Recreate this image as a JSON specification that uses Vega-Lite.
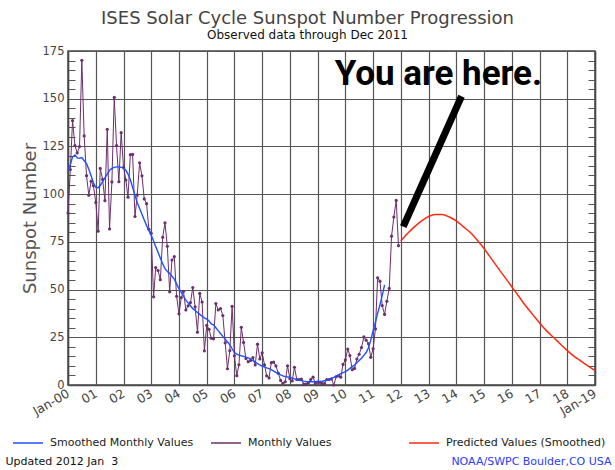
{
  "$schema": "https://vega.github.io/schema/vega-lite/v6.json",
  "width": 527,
  "height": 334,
  "autosize": {"type": "none"},
  "padding": {"left": 68, "top": 51, "right": 20, "bottom": 85},
  "background": "white",
  "title": {
    "text": "ISES Solar Cycle Sunspot Number Progression",
    "subtitle": "Observed data through Dec 2011",
    "anchor": "middle", "frame": "group", "dx": -24, "offset": 4,
    "font": "DejaVu Sans", "fontSize": 18, "fontWeight": "normal", "color": "#444",
    "subtitleFont": "DejaVu Sans", "subtitleFontSize": 12, "subtitleColor": "#111", "subtitlePadding": 2
  },
  "datasets": {
    "monthly": [
      {"d":"2000-01-01","m":90.1,"s":112.6},{"d":"2000-02-01","m":112.9,"s":115.5},{"d":"2000-03-01","m":138.5,"s":119.5},{"d":"2000-04-01","m":125.5,"s":120.5},{"d":"2000-05-01","m":121.6,"s":119.0},{"d":"2000-06-01","m":124.9,"s":118.8},{"d":"2000-07-01","m":170.1,"s":119.2},{"d":"2000-08-01","m":130.5,"s":117.5},{"d":"2000-09-01","m":109.7,"s":116.0},{"d":"2000-10-01","m":99.4,"s":113.0},{"d":"2000-11-01","m":106.8,"s":109.5},{"d":"2000-12-01","m":104.4,"s":106.0},
      {"d":"2001-01-01","m":95.6,"s":103.5},{"d":"2001-02-01","m":80.6,"s":103.3},{"d":"2001-03-01","m":113.5,"s":104.5},{"d":"2001-04-01","m":107.7,"s":106.5},{"d":"2001-05-01","m":96.6,"s":108.5},{"d":"2001-06-01","m":134.0,"s":110.5},{"d":"2001-07-01","m":81.8,"s":112.5},{"d":"2001-08-01","m":106.4,"s":113.5},{"d":"2001-09-01","m":150.7,"s":114.0},{"d":"2001-10-01","m":125.5,"s":114.3},{"d":"2001-11-01","m":106.5,"s":114.3},{"d":"2001-12-01","m":132.2,"s":114.0},
      {"d":"2002-01-01","m":114.1,"s":113.6},{"d":"2002-02-01","m":107.4,"s":112.5},{"d":"2002-03-01","m":98.4,"s":110.5},{"d":"2002-04-01","m":120.7,"s":107.5},{"d":"2002-05-01","m":120.8,"s":103.5},{"d":"2002-06-01","m":88.3,"s":99.5},{"d":"2002-07-01","m":99.6,"s":95.5},{"d":"2002-08-01","m":116.4,"s":92.5},{"d":"2002-09-01","m":109.6,"s":89.5},{"d":"2002-10-01","m":97.5,"s":86.5},{"d":"2002-11-01","m":95.0,"s":83.5},{"d":"2002-12-01","m":81.6,"s":81.0},
      {"d":"2003-01-01","m":79.5,"s":78.5},{"d":"2003-02-01","m":46.2,"s":75.5},{"d":"2003-03-01","m":61.5,"s":72.5},{"d":"2003-04-01","m":60.0,"s":69.5},{"d":"2003-05-01","m":55.2,"s":66.5},{"d":"2003-06-01","m":77.4,"s":63.5},{"d":"2003-07-01","m":85.0,"s":61.0},{"d":"2003-08-01","m":72.7,"s":59.5},{"d":"2003-09-01","m":48.8,"s":58.5},{"d":"2003-10-01","m":65.5,"s":57.0},{"d":"2003-11-01","m":67.3,"s":55.5},{"d":"2003-12-01","m":46.5,"s":53.0},
      {"d":"2004-01-01","m":37.3,"s":50.5},{"d":"2004-02-01","m":45.8,"s":48.5},{"d":"2004-03-01","m":49.1,"s":46.5},{"d":"2004-04-01","m":39.3,"s":44.5},{"d":"2004-05-01","m":41.5,"s":43.0},{"d":"2004-06-01","m":43.2,"s":41.5},{"d":"2004-07-01","m":51.1,"s":40.0},{"d":"2004-08-01","m":40.9,"s":39.0},{"d":"2004-09-01","m":27.7,"s":38.0},{"d":"2004-10-01","m":48.0,"s":37.0},{"d":"2004-11-01","m":43.5,"s":36.0},{"d":"2004-12-01","m":17.9,"s":35.2},
      {"d":"2005-01-01","m":31.3,"s":34.5},{"d":"2005-02-01","m":29.2,"s":33.5},{"d":"2005-03-01","m":24.5,"s":32.0},{"d":"2005-04-01","m":24.2,"s":31.5},{"d":"2005-05-01","m":42.7,"s":30.0},{"d":"2005-06-01","m":39.3,"s":28.5},{"d":"2005-07-01","m":40.1,"s":27.0},{"d":"2005-08-01","m":36.4,"s":25.5},{"d":"2005-09-01","m":22.1,"s":24.0},{"d":"2005-10-01","m":8.5,"s":22.5},{"d":"2005-11-01","m":18.0,"s":21.0},{"d":"2005-12-01","m":41.2,"s":19.0},
      {"d":"2006-01-01","m":15.3,"s":17.0},{"d":"2006-02-01","m":4.9,"s":16.2},{"d":"2006-03-01","m":10.6,"s":15.7},{"d":"2006-04-01","m":30.2,"s":15.3},{"d":"2006-05-01","m":22.3,"s":15.0},{"d":"2006-06-01","m":13.9,"s":14.6},{"d":"2006-07-01","m":12.2,"s":14.2},{"d":"2006-08-01","m":12.9,"s":13.7},{"d":"2006-09-01","m":14.4,"s":12.8},{"d":"2006-10-01","m":10.5,"s":12.0},{"d":"2006-11-01","m":21.4,"s":11.2},{"d":"2006-12-01","m":13.6,"s":10.5},
      {"d":"2007-01-01","m":16.9,"s":9.8},{"d":"2007-02-01","m":10.6,"s":9.5},{"d":"2007-03-01","m":4.8,"s":9.0},{"d":"2007-04-01","m":3.7,"s":8.6},{"d":"2007-05-01","m":11.7,"s":8.0},{"d":"2007-06-01","m":12.0,"s":7.3},{"d":"2007-07-01","m":10.0,"s":6.6},{"d":"2007-08-01","m":6.2,"s":6.0},{"d":"2007-09-01","m":2.4,"s":5.3},{"d":"2007-10-01","m":0.9,"s":4.8},{"d":"2007-11-01","m":1.7,"s":4.4},{"d":"2007-12-01","m":10.1,"s":4.2},
      {"d":"2008-01-01","m":3.3,"s":4.0},{"d":"2008-02-01","m":2.1,"s":3.6},{"d":"2008-03-01","m":9.3,"s":3.2},{"d":"2008-04-01","m":2.9,"s":2.8},{"d":"2008-05-01","m":2.9,"s":2.5},{"d":"2008-06-01","m":3.1,"s":2.3},{"d":"2008-07-01","m":0.5,"s":2.0},{"d":"2008-08-01","m":0.5,"s":1.8},{"d":"2008-09-01","m":1.1,"s":1.7},{"d":"2008-10-01","m":2.9,"s":1.7},{"d":"2008-11-01","m":4.1,"s":1.7},{"d":"2008-12-01","m":0.8,"s":1.7},
      {"d":"2009-01-01","m":1.5,"s":1.8},{"d":"2009-02-01","m":1.4,"s":1.9},{"d":"2009-03-01","m":0.7,"s":2.0},{"d":"2009-04-01","m":0.8,"s":2.2},{"d":"2009-05-01","m":2.9,"s":2.4},{"d":"2009-06-01","m":2.9,"s":2.8},{"d":"2009-07-01","m":3.2,"s":3.4},{"d":"2009-08-01","m":0.0,"s":4.0},{"d":"2009-09-01","m":4.3,"s":4.7},{"d":"2009-10-01","m":4.8,"s":5.3},{"d":"2009-11-01","m":4.1,"s":6.0},{"d":"2009-12-01","m":10.8,"s":6.5},
      {"d":"2010-01-01","m":13.2,"s":7.0},{"d":"2010-02-01","m":18.8,"s":7.8},{"d":"2010-03-01","m":15.4,"s":8.7},{"d":"2010-04-01","m":8.0,"s":9.6},{"d":"2010-05-01","m":8.7,"s":10.5},{"d":"2010-06-01","m":13.6,"s":11.6},{"d":"2010-07-01","m":16.1,"s":12.8},{"d":"2010-08-01","m":19.6,"s":14.0},{"d":"2010-09-01","m":25.2,"s":15.5},{"d":"2010-10-01","m":23.5,"s":17.0},{"d":"2010-11-01","m":21.6,"s":19.5},{"d":"2010-12-01","m":14.5,"s":23.5},
      {"d":"2011-01-01","m":19.0,"s":28.5},{"d":"2011-02-01","m":29.4,"s":33.0},{"d":"2011-03-01","m":56.2,"s":37.5},{"d":"2011-04-01","m":54.4,"s":42.0},{"d":"2011-05-01","m":41.6,"s":47.0},{"d":"2011-06-01","m":37.0,"s":52.5},{"d":"2011-07-01","m":43.9},{"d":"2011-08-01","m":50.6},{"d":"2011-09-01","m":78.0},{"d":"2011-10-01","m":88.0},{"d":"2011-11-01","m":96.7},{"d":"2011-12-01","m":73.0}
    ],
    "predicted": [
      {"d":"2012-01-01","p":75.5},{"d":"2012-04-01","p":79.5},{"d":"2012-07-01","p":83.0},{"d":"2012-10-01","p":86.0},{"d":"2013-01-01","p":88.3},{"d":"2013-04-01","p":89.3},{"d":"2013-07-01","p":89.3},{"d":"2013-10-01","p":88.0},
      {"d":"2014-01-01","p":86.0},{"d":"2014-04-01","p":83.0},{"d":"2014-07-01","p":80.0},{"d":"2014-10-01","p":76.0},{"d":"2015-01-01","p":71.5},{"d":"2015-04-01","p":66.5},{"d":"2015-07-01","p":61.5},{"d":"2015-10-01","p":56.5},
      {"d":"2016-01-01","p":51.5},{"d":"2016-04-01","p":46.5},{"d":"2016-07-01","p":41.5},{"d":"2016-10-01","p":37.0},{"d":"2017-01-01","p":32.5},{"d":"2017-04-01","p":28.5},{"d":"2017-07-01","p":25.0},{"d":"2017-10-01","p":21.5},
      {"d":"2018-01-01","p":18.0},{"d":"2018-04-01","p":15.0},{"d":"2018-07-01","p":12.5},{"d":"2018-10-01","p":10.0},{"d":"2019-01-01","p":7.5}
    ],
    "arrow": [{"d":"2014-03-10","v1":151.3,"d2":"2012-02-02","v2":83.0}],
    "note": [{"d":"2013-05-10","v":157,"label":"You are here."}]
  },
  "encoding": {
    "x": {"field": "d", "type": "temporal",
      "scale": {"type": "utc", "domain": [{"year": 2000, "month": 1, "date": 1, "utc": true}, {"year": 2019, "month": 1, "date": 1, "utc": true}], "nice": false},
      "axis": {
        "values": [
          {"year": 2000, "utc": true}, {"year": 2001, "utc": true}, {"year": 2002, "utc": true}, {"year": 2003, "utc": true}, {"year": 2004, "utc": true},
          {"year": 2005, "utc": true}, {"year": 2006, "utc": true}, {"year": 2007, "utc": true}, {"year": 2008, "utc": true}, {"year": 2009, "utc": true},
          {"year": 2010, "utc": true}, {"year": 2011, "utc": true}, {"year": 2012, "utc": true}, {"year": 2013, "utc": true}, {"year": 2014, "utc": true},
          {"year": 2015, "utc": true}, {"year": 2016, "utc": true}, {"year": 2017, "utc": true}, {"year": 2018, "utc": true}, {"year": 2019, "utc": true}
        ],
        "labelExpr": "utcyear(datum.value) == 2000 ? 'Jan-00' : (utcyear(datum.value) == 2019 ? 'Jan-19' : utcFormat(datum.value, '%y'))",
        "labelAngle": -30, "labelAlign": "right", "labelBaseline": "middle", "labelPadding": 7,
        "labelFlush": false, "labelOverlap": false, "ticks": false, "domain": true, "domainColor": "#4a4a4a", "domainWidth": 1.5,
        "grid": true, "gridColor": "#555", "gridWidth": 1.2,
        "labelFont": "DejaVu Sans", "labelFontSize": 12.5, "labelColor": "#444",
        "title": "Updated 2012 Jan\u00a0 3", "titleX": -63, "titleY": 76, "titleAlign": "left", "titleBaseline": "middle",
        "titleFont": "DejaVu Sans", "titleFontSize": 11, "titleFontWeight": "normal", "titleColor": "#111"
      }
    }
  },
  "layer": [
    {
      "data": {"name": "monthly"},
      "mark": {"type": "line", "strokeWidth": 1, "point": {"filled": true, "size": 10, "color": "#3b003b"}},
      "encoding": {
        "y": {"field": "m", "type": "quantitative",
          "scale": {"domain": [0, 175], "nice": false},
          "axis": {
            "orient": "left",
            "values": [0,5,10,15,20,25,30,35,40,45,50,55,60,65,70,75,80,85,90,95,100,105,110,115,120,125,130,135,140,145,150,155,160,165,170,175],
            "labelExpr": "datum.value % 25 == 0 ? datum.label : ''",
            "tickSize": -7, "labelPadding": 11, "domain": true, "domainColor": "#4a4a4a", "domainWidth": 1.5, "grid": true,
            "gridOpacity": {"condition": {"test": "datum.value % 25 == 0", "value": 1}, "value": 0},
            "labelFont": "DejaVu Sans", "labelFontSize": 11.5, "labelColor": "#444",
            "title": "Sunspot Number", "titleX": -38, "titleY": 167, "titleAlign": "center", "titleBaseline": "middle",
            "titleFont": "DejaVu Sans", "titleFontSize": 18, "titleFontWeight": "normal", "titleColor": "#555"
          }
        },
        "color": {"datum": "Monthly Values", "type": "nominal",
          "scale": {"domain": ["Smoothed Monthly Values", "Monthly Values", "Predicted Values (Smoothed)"], "range": ["#1f4fff", "#6b2f6b", "#ff2a10"]},
          "legend": {
            "orient": "none", "legendX": -56, "legendY": 376, "direction": "horizontal", "columns": 3, "gridAlign": "all", "columnPadding": -9,
            "symbolType": "stroke", "symbolSize": 900, "symbolStrokeWidth": 1.5, "labelOffset": 6, "labelLimit": 300,
            "labelFont": "DejaVu Sans", "labelFontSize": 11, "labelColor": "#222", "title": null, "padding": 0
          }
        }
      }
    },
    {
      "data": {"name": "monthly"},
      "mark": {"type": "line", "strokeWidth": 1.4},
      "encoding": {
        "y": {"field": "s", "type": "quantitative", "scale": {"domain": [0, 175], "nice": false},
          "axis": {
            "orient": "right",
            "values": [0,5,10,15,20,25,30,35,40,45,50,55,60,65,70,75,80,85,90,95,100,105,110,115,120,125,130,135,140,145,150,155,160,165,170,175],
            "labels": false, "tickSize": -7, "grid": false, "domain": true, "domainColor": "#4a4a4a", "domainWidth": 1.5,
            "title": "NOAA/SWPC Boulder,CO USA", "titleAngle": 0, "titleX": 16, "titleY": 410, "titleAlign": "right", "titleBaseline": "middle",
            "titleFont": "DejaVu Sans", "titleFontSize": 11, "titleFontWeight": "normal", "titleColor": "#2a3cff"
          }
        },
        "color": {"datum": "Smoothed Monthly Values", "type": "nominal"}
      }
    },
    {
      "data": {"name": "predicted"},
      "mark": {"type": "line", "strokeWidth": 1.5, "interpolate": "monotone"},
      "encoding": {
        "y": {"field": "p", "type": "quantitative", "scale": {"domain": [0, 175], "nice": false}, "axis": null},
        "color": {"datum": "Predicted Values (Smoothed)", "type": "nominal"}
      }
    },
    {
      "data": {"name": "arrow"},
      "mark": {"type": "rule", "color": "black", "strokeWidth": 7, "strokeCap": "butt"},
      "encoding": {
        "y": {"field": "v1", "type": "quantitative", "scale": {"domain": [0, 175], "nice": false}, "axis": null},
        "x2": {"field": "d2"},
        "y2": {"field": "v2"}
      }
    },
    {
      "data": {"name": "note"},
      "mark": {"type": "text", "font": "Roboto", "fontWeight": "bold", "fontSize": 35, "align": "center", "baseline": "alphabetic", "color": "black"},
      "encoding": {
        "y": {"field": "v", "type": "quantitative", "scale": {"domain": [0, 175], "nice": false}, "axis": null},
        "text": {"field": "label"}
      }
    }
  ],
  "resolve": {"axis": {"y": "independent"}},
  "config": {
    "view": {"stroke": "#4a4a4a", "strokeWidth": 1.5},
    "axis": {"gridColor": "#555", "gridWidth": 1.2, "tickColor": "#555", "tickWidth": 1}
  }
}
